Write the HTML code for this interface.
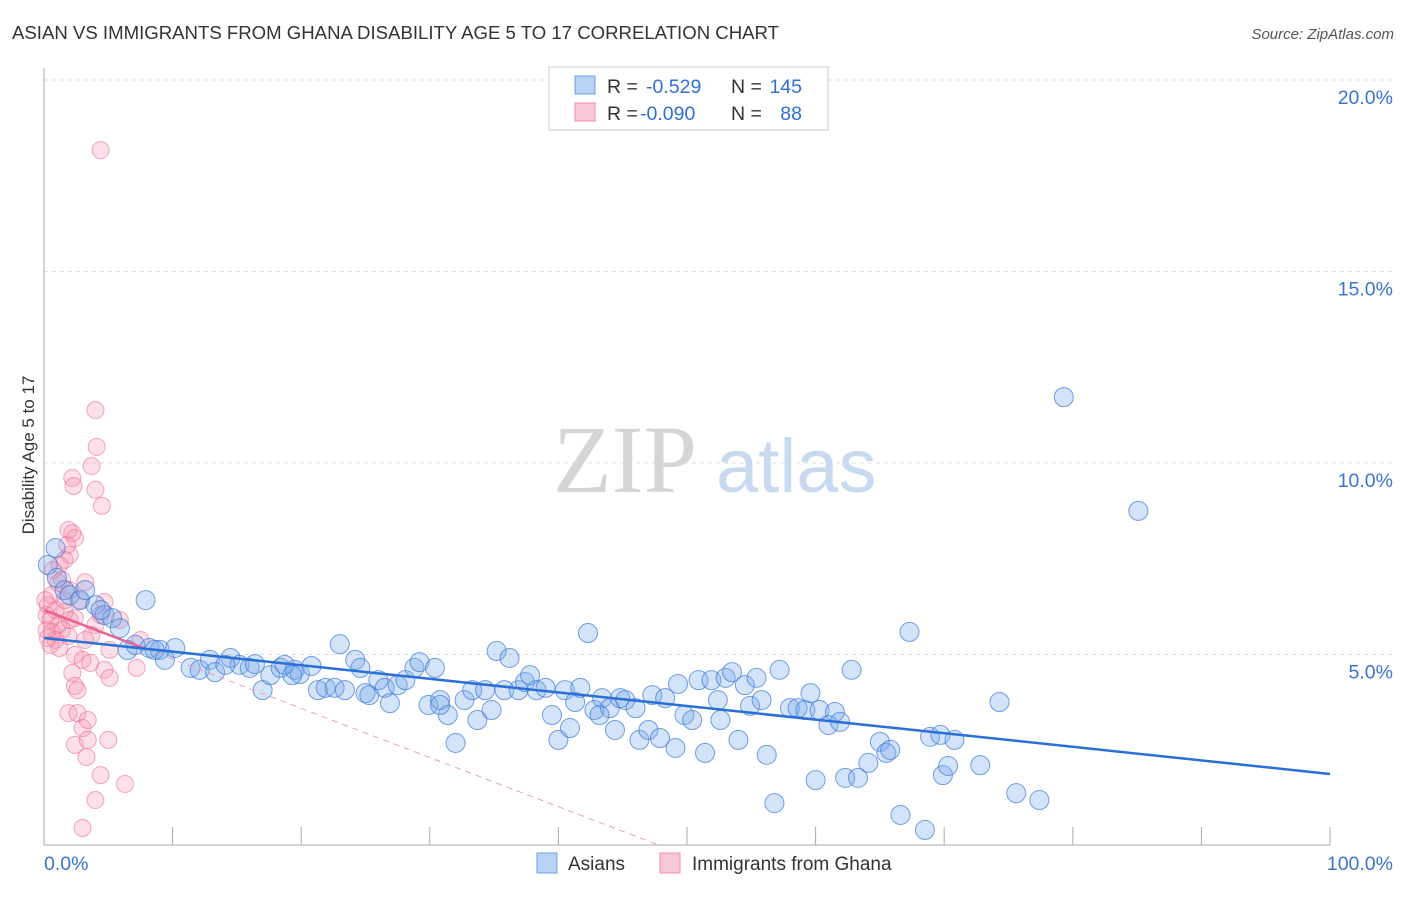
<!DOCTYPE html>
<html><head><meta charset="utf-8"><style>
body{margin:0;background:#fff;font-family:"Liberation Sans",sans-serif}
svg text{font-family:"Liberation Sans",sans-serif}
</style></head><body>
<svg id="c" width="1406" height="892">
<text x="12" y="39" font-size="18.6" fill="#333">ASIAN VS IMMIGRANTS FROM GHANA DISABILITY AGE 5 TO 17 CORRELATION CHART</text>
<text x="1394" y="39" font-size="15" fill="#555" font-style="italic" text-anchor="end">Source: ZipAtlas.com</text>
<g id="grid"></g>
<g><text x="553" y="492" font-size="96" fill="#d5d5d5" font-family="Liberation Serif" style="font-family:'Liberation Serif',serif">ZIP</text><text x="716" y="492" font-size="76" fill="#c9daf0">atlas</text></g>
<text transform="translate(34,455) rotate(-90)" font-size="17" fill="#333" text-anchor="middle">Disability Age 5 to 17</text>
<g id="pts"></g>
<g id="lines"></g>
<g>
<rect x="549" y="67" width="279" height="63" fill="#fff" stroke="#ccc"/>
<rect x="575" y="76" width="20" height="18" fill="#b8d2f4" stroke="#6d9ee6"/>
<rect x="575" y="103" width="20" height="18" fill="#f8c6d4" stroke="#ef8fac"/>
<text x="607" y="93" font-size="19.5" fill="#333">R =</text>
<text x="646" y="93" font-size="19.5" fill="#2f6fd6">-0.529</text>
<text x="731" y="93" font-size="19.5" fill="#333">N =</text>
<text x="802" y="93" font-size="19.5" fill="#2f6fd6" text-anchor="end">145</text>
<text x="607" y="120" font-size="19.5" fill="#333">R =</text>
<text x="640" y="120" font-size="19.5" fill="#2f6fd6">-0.090</text>
<text x="731" y="120" font-size="19.5" fill="#333">N =</text>
<text x="802" y="120" font-size="19.5" fill="#2f6fd6" text-anchor="end">88</text>
</g>
<g>
<rect x="537" y="853" width="20" height="20" fill="#b8d2f4" stroke="#6d9ee6"/>
<text x="568" y="870" font-size="19" fill="#333">Asians</text>
<rect x="660" y="853" width="20" height="20" fill="#f8c6d4" stroke="#ef8fac"/>
<text x="692" y="870" font-size="19" fill="#333">Immigrants from Ghana</text>
</g>
</svg>
<script>
const blueX=[0.3,1.0,1.6,2.0,2.8,4.0,4.7,5.3,5.9,7.9,6.5,7.1,8.2,9.0,9.4,10.2,11.4,12.1,12.9,13.3,14.5,15.2,16.0,16.4,17.0,17.6,18.4,18.7,19.5,19.9,20.8,21.3,21.9,22.6,23.0,23.4,24.2,25.0,25.3,26.0,26.5,26.9,27.5,28.1,28.8,29.2,29.9,30.4,30.8,31.4,32.0,32.7,33.3,33.7,34.3,34.8,35.2,35.8,36.2,36.9,37.4,37.8,38.3,39.0,39.5,40.0,40.5,40.9,41.3,41.7,42.3,42.8,43.4,44.0,44.4,44.8,45.2,46.0,46.3,47.0,47.3,47.9,48.3,49.1,49.3,49.8,50.4,50.9,51.4,51.9,52.4,53.0,53.5,54.0,54.5,54.9,55.4,55.8,56.2,57.2,56.8,58.0,58.6,59.2,59.6,60.0,60.3,61.0,61.5,61.9,62.3,62.8,63.3,64.1,65.0,65.5,65.8,66.6,67.3,68.5,68.9,69.7,69.9,70.3,70.8,72.8,74.3,75.6,77.4,79.3,85.1,0.9,3.2,4.4,8.6,14.1,19.3,24.6,30.8,43.2,52.6];
const blueY=[7.34,7.0,6.68,6.55,6.42,6.29,6.03,5.95,5.69,6.42,5.12,5.25,5.17,5.12,4.86,5.17,4.65,4.60,4.86,4.54,4.91,4.73,4.65,4.75,4.07,4.46,4.65,4.73,4.60,4.49,4.70,4.07,4.13,4.13,5.27,4.07,4.86,3.99,3.94,4.33,4.13,3.73,4.20,4.33,4.65,4.80,3.68,4.65,3.81,3.42,2.69,3.81,4.07,3.29,4.07,3.55,5.09,4.07,4.91,4.07,4.28,4.46,4.07,4.13,3.42,2.77,4.07,3.08,3.76,4.13,5.56,3.55,3.86,3.60,3.03,3.86,3.81,3.60,2.77,3.03,3.94,2.82,3.86,2.56,4.23,3.42,3.29,4.33,2.43,4.33,3.81,4.39,4.54,2.77,4.20,3.66,4.39,3.81,2.38,4.60,1.12,3.60,3.60,3.55,3.99,1.72,3.55,3.16,3.50,3.24,1.78,4.60,1.78,2.17,2.72,2.43,2.51,0.81,5.59,0.42,2.85,2.90,1.85,2.09,2.77,2.11,3.76,1.38,1.20,11.72,8.75,7.78,6.68,6.16,5.12,4.73,4.46,4.65,3.68,3.42,3.29];
const pinkX=[4.4,4.0,4.1,3.7,2.2,2.3,4.0,4.5,1.9,2.2,2.4,1.8,2.0,1.2,1.4,1.1,3.2,2.0,0.6,2.8,4.7,0.3,0.9,1.6,2.4,0.5,1.1,4.0,1.4,0.6,1.9,3.7,0.3,0.9,7.5,0.5,1.2,2.4,3.0,3.6,4.7,7.2,2.2,5.1,2.4,2.6,1.9,2.6,3.0,2.4,3.4,5.0,3.3,4.4,6.3,4.0,3.0,0.1,0.2,0.2,0.7,1.6,4.4,3.2,5.9,5.1,3.4,1.6,2.0];
const pinkY=[18.17,11.38,10.42,9.92,9.61,9.40,9.30,8.88,8.25,8.17,8.04,7.86,7.60,7.34,6.95,6.87,6.89,6.68,6.55,6.42,6.37,6.29,6.16,6.11,5.95,5.90,5.77,5.77,5.64,5.59,5.48,5.51,5.43,5.38,5.38,5.25,5.17,4.99,4.86,4.78,4.60,4.65,4.52,4.39,4.18,4.07,3.47,3.47,3.08,2.64,2.77,2.77,2.32,1.85,1.62,1.20,0.47,6.42,6.03,5.64,7.21,7.47,6.03,5.38,5.90,5.12,3.29,6.42,5.90];
const yTicks=[5,10,15,20];
const xTickVals=[0,10,20,30,40,50,60,70,80,90,100];
const blueTrend=[5.43,1.88];
const pinkTrend=[6.16,0];
const pinkTrendEnd=48;
const NS='http://www.w3.org/2000/svg';
const X=v=>44+v*12.86, Y=v=>846-v*38.3;
function mk(t,a,p){const e=document.createElementNS(NS,t);for(const k in a)e.setAttribute(k,a[k]);p.appendChild(e);return e;}
const g=document.getElementById('grid');
yTicks.forEach(v=>{
 const l=mk('line',{x1:44,x2:1394,y1:Y(v),y2:Y(v),stroke:'#ddd','stroke-dasharray':'4,4'},g);
 
 
 const t=mk('text',{x:1393,y:Y(v)+24,'font-size':19.5,fill:'#3b73d1','text-anchor':'end'},g);
 t.textContent=v.toFixed(1)+'%';
 
 
});
const ax=mk('line',{x1:44,x2:1330,y1:845,y2:845,stroke:'#aaa'},g);


const ay=mk('line',{x1:44,x2:44,y1:68,y2:845,stroke:'#aaa'},g);


xTickVals.forEach(v=>{if(v===0)return;const t=mk('line',{x1:X(v),x2:X(v),y1:827,y2:845,stroke:'#aaa'},g);
 
 });
const l0=mk('text',{x:44,y:870,'font-size':19.5,fill:'#3b73d1'},g);l0.textContent='0.0%';


const l1=mk('text',{x:1393,y:870,'font-size':19.5,fill:'#3b73d1','text-anchor':'end'},g);l1.textContent='100.0%';


const P=document.getElementById('pts');
pinkX.forEach((x,i)=>{const c=mk('circle',{cx:X(x),cy:Y(pinkY[i]),r:8.5,fill:'rgba(244,143,172,0.28)',stroke:'rgba(236,110,150,0.6)','stroke-width':1},P);
 
 });
blueX.forEach((x,i)=>{const c=mk('circle',{cx:X(x),cy:Y(blueY[i]),r:9.5,fill:'rgba(120,170,235,0.33)',stroke:'rgba(60,120,215,0.7)','stroke-width':1},P);
 
 });
const L=document.getElementById('lines');
const pm=v=>pinkTrend[0]+(pinkTrend[1]-pinkTrend[0])*v/pinkTrendEnd;
const pl=mk('line',{x1:X(0),y1:Y(pinkTrend[0]),x2:X(8),y2:Y(pm(8)),stroke:'#e8638f','stroke-width':2.5},L);


const pd=mk('line',{x1:X(8),y1:Y(pm(8)),x2:X(pinkTrendEnd),y2:Y(pinkTrend[1]),stroke:'#e8a0b8','stroke-width':1,'stroke-dasharray':'6,5'},L);


const bl=mk('line',{x1:X(0),y1:Y(blueTrend[0]),x2:X(100),y2:Y(blueTrend[1]),stroke:'#2a6fd8','stroke-width':2.5},L);


</script>
</body></html>
